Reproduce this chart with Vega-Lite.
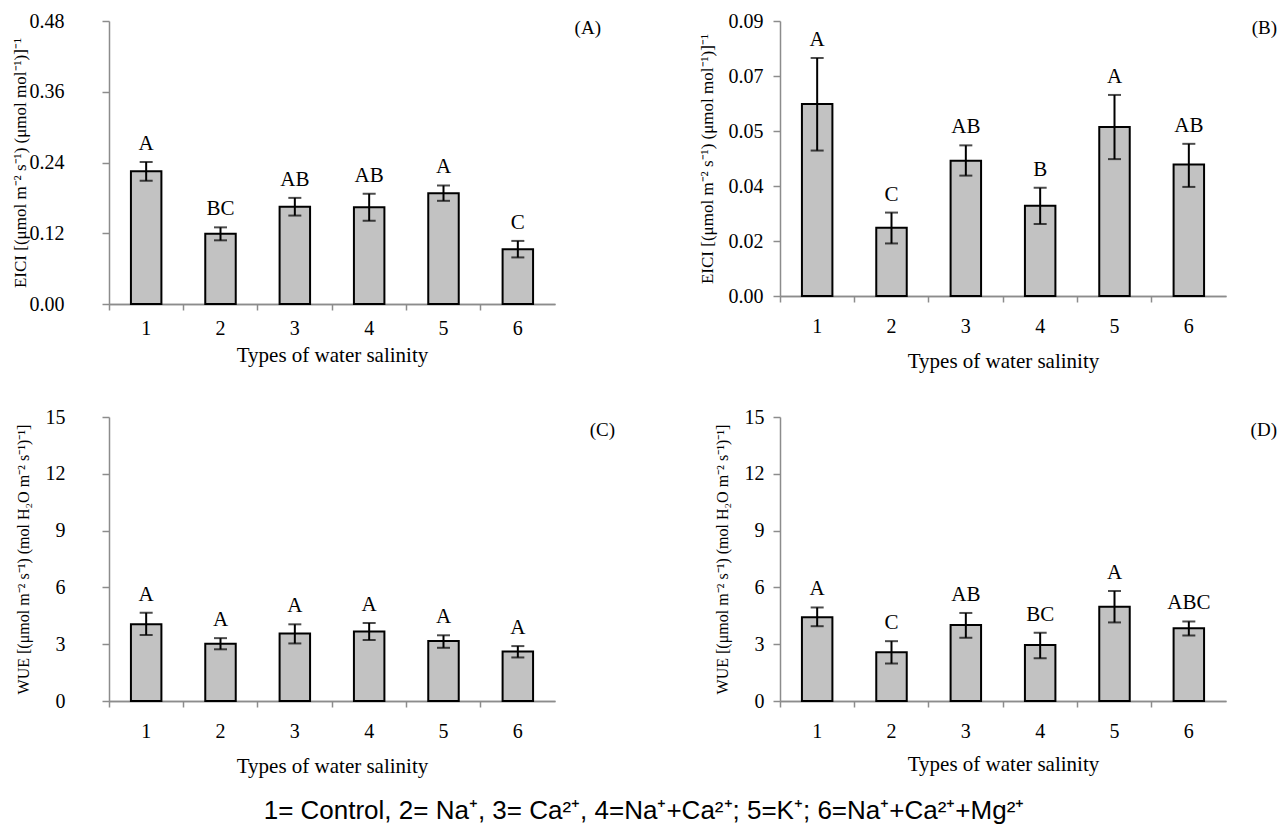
{
  "$schema": "https://vega.github.io/schema/vega-lite/v6.json",
  "padding": {"left": 10, "top": 11, "right": 5, "bottom": 5},
  "bounds": "flush",
  "columns": 2,
  "spacing": {"row": 113, "column": 225},
  "title": {"text": "1= Control, 2= Na⁺, 3= Ca²⁺, 4=Na⁺+Ca²⁺; 5=K⁺; 6=Na⁺+Ca²⁺+Mg²⁺", "orient": "bottom", "anchor": "middle", "font": "Liberation Sans, Arial, sans-serif", "fontSize": 26, "fontWeight": "normal", "color": "#000", "offset": 22},
  "config": {
    "view": {"stroke": null},
    "axis": {"labelFont": "Liberation Serif, Times New Roman, serif", "titleFont": "Liberation Serif, Times New Roman, serif", "labelColor": "#000", "titleColor": "#000", "titleFontWeight": "normal", "domainColor": "#8c8c8c", "tickColor": "#8c8c8c", "domainWidth": 1.5, "tickWidth": 1.5, "grid": false},
    "title": {"font": "Liberation Serif, Times New Roman, serif", "fontWeight": "normal", "fontSize": 19, "color": "#000"}
  },
  "concat": [
    {
      "width": 446, "height": 283,
      "title": {"text": "(A)", "anchor": "end", "dx": 46, "dy": 27, "offset": 0},
      "data": {"values": [
        {"type": "1", "mean": 0.225, "lo": 0.209, "hi": 0.241, "letter": "A"},
        {"type": "2", "mean": 0.119, "lo": 0.108, "hi": 0.130, "letter": "BC"},
        {"type": "3", "mean": 0.165, "lo": 0.150, "hi": 0.180, "letter": "AB"},
        {"type": "4", "mean": 0.164, "lo": 0.141, "hi": 0.187, "letter": "AB"},
        {"type": "5", "mean": 0.188, "lo": 0.175, "hi": 0.201, "letter": "A"},
        {"type": "6", "mean": 0.093, "lo": 0.079, "hi": 0.107, "letter": "C"}
      ]},
      "resolve": {"axis": {"x": "independent"}},
      "layer": [
        {"mark": {"type": "bar", "fill": "#c2c2c2", "stroke": "#000", "strokeWidth": 2, "width": {"band": 0.41}},
         "encoding": {
           "x": {"field": "type", "type": "ordinal", "scale": {"paddingInner": 0, "paddingOuter": 0}, "axis": {"orient": "bottom", "ticks": false, "tickSize": 0, "domain": true, "labelAngle": 0, "labelFontSize": 20, "labelPadding": 14, "title": "Types of water salinity", "titleFontSize": 21, "titlePadding": 6}},
           "y": {"field": "mean", "type": "quantitative", "title": "EICI [(μmol m⁻² s⁻¹) (μmol mol⁻¹)]⁻¹", "scale": {"domain": [0, 0.48], "nice": false}, "axis": {"values": [0, 0.12, 0.24, 0.36, 0.48], "format": ".2f", "labelFontSize": 20, "tickSize": 7, "labelPadding": 38, "titleFontSize": 17, "titlePadding": 0}}
         }},
        {"mark": {"type": "rule", "strokeWidth": 2, "color": "#000"},
         "encoding": {
           "x": {"field": "type", "type": "ordinal", "axis": {"orient": "bottom", "bandPosition": 0, "labels": false, "title": null, "ticks": true, "tickSize": 6, "domain": true}},
           "y": {"field": "lo", "type": "quantitative", "title": "EICI [(μmol m⁻² s⁻¹) (μmol mol⁻¹)]⁻¹"},
           "y2": {"field": "hi"}
         }},
        {"mark": {"type": "tick", "size": 13, "thickness": 2, "color": "#000"},
         "encoding": {"x": {"field": "type", "type": "ordinal", "axis": null}, "y": {"field": "hi", "type": "quantitative", "title": "EICI [(μmol m⁻² s⁻¹) (μmol mol⁻¹)]⁻¹"}}},
        {"mark": {"type": "tick", "size": 13, "thickness": 2, "color": "#000"},
         "encoding": {"x": {"field": "type", "type": "ordinal", "axis": null}, "y": {"field": "lo", "type": "quantitative", "title": "EICI [(μmol m⁻² s⁻¹) (μmol mol⁻¹)]⁻¹"}}},
        {"mark": {"type": "text", "baseline": "alphabetic", "dy": -12, "font": "Liberation Serif, Times New Roman, serif", "fontSize": 21, "color": "#000"},
         "encoding": {"x": {"field": "type", "type": "ordinal", "axis": null}, "y": {"field": "hi", "type": "quantitative", "title": "EICI [(μmol m⁻² s⁻¹) (μmol mol⁻¹)]⁻¹"}, "text": {"field": "letter"}}}
      ]
    },
    {
      "width": 446, "height": 275,
      "title": {"text": "(B)", "anchor": "end", "dx": 51, "dy": 27, "offset": 0},
      "data": {"values": [
        {"type": "1", "mean": 0.0628, "lo": 0.0476, "hi": 0.0779, "letter": "A"},
        {"type": "2", "mean": 0.0223, "lo": 0.0172, "hi": 0.0273, "letter": "C"},
        {"type": "3", "mean": 0.0443, "lo": 0.0394, "hi": 0.0493, "letter": "AB"},
        {"type": "4", "mean": 0.0295, "lo": 0.0236, "hi": 0.0354, "letter": "B"},
        {"type": "5", "mean": 0.0553, "lo": 0.0448, "hi": 0.0658, "letter": "A"},
        {"type": "6", "mean": 0.0430, "lo": 0.0357, "hi": 0.0498, "letter": "AB"}
      ]},
      "resolve": {"axis": {"x": "independent"}},
      "layer": [
        {"mark": {"type": "bar", "fill": "#c2c2c2", "stroke": "#000", "strokeWidth": 2, "width": {"band": 0.41}},
         "encoding": {
           "x": {"field": "type", "type": "ordinal", "scale": {"paddingInner": 0, "paddingOuter": 0}, "axis": {"orient": "bottom", "ticks": false, "tickSize": 0, "domain": true, "labelAngle": 0, "labelFontSize": 20, "labelPadding": 20, "title": "Types of water salinity", "titleFontSize": 21, "titlePadding": 14}},
           "y": {"field": "mean", "type": "quantitative", "title": "EICI [(μmol m⁻² s⁻¹) (μmol mol⁻¹)]⁻¹", "scale": {"domain": [0, 0.09], "nice": false}, "axis": {"values": [0, 0.018, 0.036, 0.054, 0.072, 0.09], "format": ".2f", "labelFontSize": 20, "tickSize": 7, "labelPadding": 10, "titleFontSize": 17, "titlePadding": 12}}
         }},
        {"mark": {"type": "rule", "strokeWidth": 2, "color": "#000"},
         "encoding": {
           "x": {"field": "type", "type": "ordinal", "axis": {"orient": "bottom", "bandPosition": 0, "labels": false, "title": null, "ticks": true, "tickSize": 6, "domain": true}},
           "y": {"field": "lo", "type": "quantitative", "title": "EICI [(μmol m⁻² s⁻¹) (μmol mol⁻¹)]⁻¹"},
           "y2": {"field": "hi"}
         }},
        {"mark": {"type": "tick", "size": 13, "thickness": 2, "color": "#000"},
         "encoding": {"x": {"field": "type", "type": "ordinal", "axis": null}, "y": {"field": "hi", "type": "quantitative", "title": "EICI [(μmol m⁻² s⁻¹) (μmol mol⁻¹)]⁻¹"}}},
        {"mark": {"type": "tick", "size": 13, "thickness": 2, "color": "#000"},
         "encoding": {"x": {"field": "type", "type": "ordinal", "axis": null}, "y": {"field": "lo", "type": "quantitative", "title": "EICI [(μmol m⁻² s⁻¹) (μmol mol⁻¹)]⁻¹"}}},
        {"mark": {"type": "text", "baseline": "alphabetic", "dy": -12, "font": "Liberation Serif, Times New Roman, serif", "fontSize": 21, "color": "#000"},
         "encoding": {"x": {"field": "type", "type": "ordinal", "axis": null}, "y": {"field": "hi", "type": "quantitative", "title": "EICI [(μmol m⁻² s⁻¹) (μmol mol⁻¹)]⁻¹"}, "text": {"field": "letter"}}}
      ]
    },
    {
      "width": 446, "height": 284,
      "title": {"text": "(C)", "anchor": "end", "dx": 60, "dy": 33, "offset": 0},
      "data": {"values": [
        {"type": "1", "mean": 4.05, "lo": 3.49, "hi": 4.66, "letter": "A"},
        {"type": "2", "mean": 3.02, "lo": 2.73, "hi": 3.32, "letter": "A"},
        {"type": "3", "mean": 3.56, "lo": 3.04, "hi": 4.05, "letter": "A"},
        {"type": "4", "mean": 3.67, "lo": 3.22, "hi": 4.12, "letter": "A"},
        {"type": "5", "mean": 3.17, "lo": 2.81, "hi": 3.47, "letter": "A"},
        {"type": "6", "mean": 2.61, "lo": 2.30, "hi": 2.90, "letter": "A"}
      ]},
      "resolve": {"axis": {"x": "independent"}},
      "layer": [
        {"mark": {"type": "bar", "fill": "#c2c2c2", "stroke": "#000", "strokeWidth": 2, "width": {"band": 0.41}},
         "encoding": {
           "x": {"field": "type", "type": "ordinal", "scale": {"paddingInner": 0, "paddingOuter": 0}, "axis": {"orient": "bottom", "ticks": false, "tickSize": 0, "domain": true, "labelAngle": 0, "labelFontSize": 20, "labelPadding": 20, "title": "Types of water salinity", "titleFontSize": 21, "titlePadding": 14}},
           "y": {"field": "mean", "type": "quantitative", "title": "WUE [(μmol m⁻² s⁻¹) (mol H₂O m⁻² s⁻¹)⁻¹]", "scale": {"domain": [0, 15], "nice": false}, "axis": {"values": [0, 3, 6, 9, 12, 15], "labelFontSize": 20, "tickSize": 7, "labelPadding": 37, "titleFontSize": 16, "titlePadding": 14}}
         }},
        {"mark": {"type": "rule", "strokeWidth": 2, "color": "#000"},
         "encoding": {
           "x": {"field": "type", "type": "ordinal", "axis": {"orient": "bottom", "bandPosition": 0, "labels": false, "title": null, "ticks": true, "tickSize": 6, "domain": true}},
           "y": {"field": "lo", "type": "quantitative", "title": "WUE [(μmol m⁻² s⁻¹) (mol H₂O m⁻² s⁻¹)⁻¹]"},
           "y2": {"field": "hi"}
         }},
        {"mark": {"type": "tick", "size": 13, "thickness": 2, "color": "#000"},
         "encoding": {"x": {"field": "type", "type": "ordinal", "axis": null}, "y": {"field": "hi", "type": "quantitative", "title": "WUE [(μmol m⁻² s⁻¹) (mol H₂O m⁻² s⁻¹)⁻¹]"}}},
        {"mark": {"type": "tick", "size": 13, "thickness": 2, "color": "#000"},
         "encoding": {"x": {"field": "type", "type": "ordinal", "axis": null}, "y": {"field": "lo", "type": "quantitative", "title": "WUE [(μmol m⁻² s⁻¹) (mol H₂O m⁻² s⁻¹)⁻¹]"}}},
        {"mark": {"type": "text", "baseline": "alphabetic", "dy": -12, "font": "Liberation Serif, Times New Roman, serif", "fontSize": 21, "color": "#000"},
         "encoding": {"x": {"field": "type", "type": "ordinal", "axis": null}, "y": {"field": "hi", "type": "quantitative", "title": "WUE [(μmol m⁻² s⁻¹) (mol H₂O m⁻² s⁻¹)⁻¹]"}, "text": {"field": "letter"}}}
      ]
    },
    {
      "width": 446, "height": 284,
      "title": {"text": "(D)", "anchor": "end", "dx": 51, "dy": 33, "offset": 0},
      "data": {"values": [
        {"type": "1", "mean": 4.43, "lo": 3.95, "hi": 4.94, "letter": "A"},
        {"type": "2", "mean": 2.57, "lo": 1.98, "hi": 3.16, "letter": "C"},
        {"type": "3", "mean": 4.02, "lo": 3.34, "hi": 4.65, "letter": "AB"},
        {"type": "4", "mean": 2.96, "lo": 2.26, "hi": 3.60, "letter": "BC"},
        {"type": "5", "mean": 4.98, "lo": 4.15, "hi": 5.81, "letter": "A"},
        {"type": "6", "mean": 3.84, "lo": 3.46, "hi": 4.20, "letter": "ABC"}
      ]},
      "resolve": {"axis": {"x": "independent"}},
      "layer": [
        {"mark": {"type": "bar", "fill": "#c2c2c2", "stroke": "#000", "strokeWidth": 2, "width": {"band": 0.41}},
         "encoding": {
           "x": {"field": "type", "type": "ordinal", "scale": {"paddingInner": 0, "paddingOuter": 0}, "axis": {"orient": "bottom", "ticks": false, "tickSize": 0, "domain": true, "labelAngle": 0, "labelFontSize": 20, "labelPadding": 20, "title": "Types of water salinity", "titleFontSize": 21, "titlePadding": 12}},
           "y": {"field": "mean", "type": "quantitative", "title": "WUE [(μmol m⁻² s⁻¹) (mol H₂O m⁻² s⁻¹)⁻¹]", "scale": {"domain": [0, 15], "nice": false}, "axis": {"values": [0, 3, 6, 9, 12, 15], "labelFontSize": 20, "tickSize": 7, "labelPadding": 9, "titleFontSize": 16, "titlePadding": 14}}
         }},
        {"mark": {"type": "rule", "strokeWidth": 2, "color": "#000"},
         "encoding": {
           "x": {"field": "type", "type": "ordinal", "axis": {"orient": "bottom", "bandPosition": 0, "labels": false, "title": null, "ticks": true, "tickSize": 6, "domain": true}},
           "y": {"field": "lo", "type": "quantitative", "title": "WUE [(μmol m⁻² s⁻¹) (mol H₂O m⁻² s⁻¹)⁻¹]"},
           "y2": {"field": "hi"}
         }},
        {"mark": {"type": "tick", "size": 13, "thickness": 2, "color": "#000"},
         "encoding": {"x": {"field": "type", "type": "ordinal", "axis": null}, "y": {"field": "hi", "type": "quantitative", "title": "WUE [(μmol m⁻² s⁻¹) (mol H₂O m⁻² s⁻¹)⁻¹]"}}},
        {"mark": {"type": "tick", "size": 13, "thickness": 2, "color": "#000"},
         "encoding": {"x": {"field": "type", "type": "ordinal", "axis": null}, "y": {"field": "lo", "type": "quantitative", "title": "WUE [(μmol m⁻² s⁻¹) (mol H₂O m⁻² s⁻¹)⁻¹]"}}},
        {"mark": {"type": "text", "baseline": "alphabetic", "dy": -12, "font": "Liberation Serif, Times New Roman, serif", "fontSize": 21, "color": "#000"},
         "encoding": {"x": {"field": "type", "type": "ordinal", "axis": null}, "y": {"field": "hi", "type": "quantitative", "title": "WUE [(μmol m⁻² s⁻¹) (mol H₂O m⁻² s⁻¹)⁻¹]"}, "text": {"field": "letter"}}}
      ]
    }
  ]
}
